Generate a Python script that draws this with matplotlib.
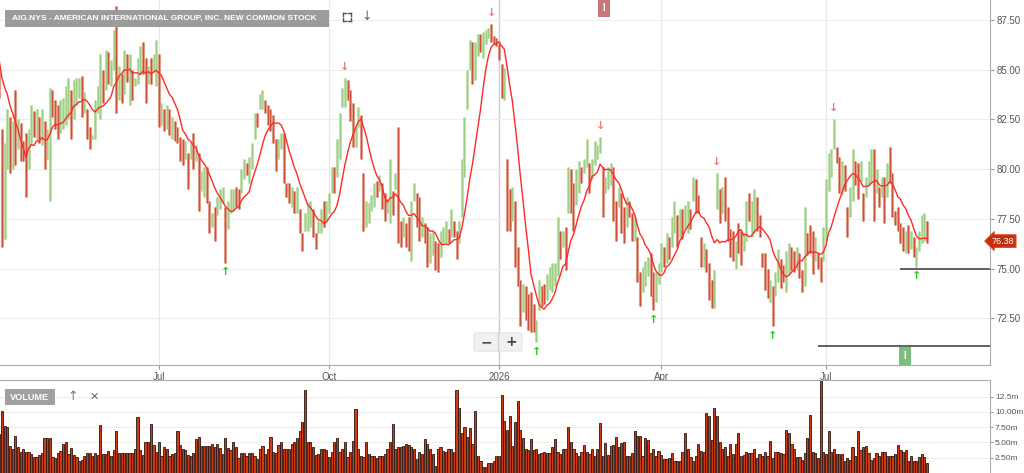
import numpy as np
import pandas as pd
import matplotlib
matplotlib.use("Agg")
import matplotlib.pyplot as plt
import matplotlib.transforms as mtransforms
from matplotlib.patches import FancyBboxPatch, Rectangle
from matplotlib.lines import Line2D

plt.rcParams["font.family"] = ["Liberation Sans", "DejaVu Sans"]


# ---------------- data ----------------
start_date = "2025-04-04"
holidays = ["2025-04-18", "2025-05-26", "2025-06-19", "2025-07-04", "2025-09-01",
            "2025-11-27", "2025-12-25", "2026-01-01", "2026-01-19", "2026-02-16",
            "2026-04-03", "2026-05-25", "2026-06-19", "2026-07-03"]

# (high, low, close) per trading day
bars_before = [(86.0, 84.6, 85.2), (86.6, 85.0, 85.9), (87.0, 85.6, 86.3), (86.5, 85.1, 85.6),
               (85.9, 84.5, 85.0), (86.4, 84.9, 85.8), (86.8, 85.3, 86.0), (86.2, 84.6, 84.9),
               (85.0, 83.6, 84.1)]

bars_apr_jun = [
    (82.0, 76.1, 77.0), (81.3, 76.5, 80.5), (83.0, 80.0, 82.5), (82.6, 79.8, 80.5), (82.4, 80.0, 81.8),
    (84.0, 80.2, 80.8), (82.5, 81.0, 81.8), (82.3, 80.4, 80.9), (81.4, 80.4, 80.7), (81.8, 78.6, 79.3),
    (82.0, 80.0, 81.5), (83.2, 81.2, 82.5), (82.9, 81.6, 82.1), (83.0, 81.5, 82.8), (82.6, 81.3, 81.7),
    (83.0, 81.2, 82.6), (82.4, 80.0, 80.6), (82.0, 80.5, 80.9), (84.1, 78.4, 83.5), (84.0, 82.6, 83.0),
    (83.5, 82.0, 82.9), (83.2, 81.5, 82.0), (83.5, 81.8, 83.0), (83.6, 82.0, 83.2), (84.2, 82.2, 83.8),
    (84.6, 82.5, 84.3), (84.0, 81.5, 82.0), (84.5, 82.5, 84.0), (84.6, 83.2, 84.3), (84.6, 83.6, 84.4),
    (84.7, 82.6, 83.0), (83.9, 82.8, 83.2), (83.0, 81.5, 82.0), (82.1, 81.0, 81.2), (81.7, 81.5, 81.6),
    (83.5, 81.5, 83.0), (84.2, 82.8, 83.6), (85.8, 82.5, 85.0), (85.0, 83.3, 84.7), (86.0, 84.0, 85.7),
    (85.9, 84.3, 84.5), (85.5, 84.2, 85.2), (87.0, 85.0, 86.8), (88.2, 82.8, 83.5), (85.2, 83.5, 84.8),
    (84.8, 83.3, 84.2), (86.0, 83.8, 85.5), (85.8, 84.4, 84.8), (85.8, 83.2, 85.3), (85.0, 83.5, 83.9),
    (84.6, 84.2, 84.4), (85.6, 84.3, 85.2), (86.2, 84.8, 86.0), (86.4, 84.8, 85.2), (85.6, 83.3, 83.8),
    (85.2, 84.3, 84.9), (85.6, 84.3, 84.5), (85.8, 84.9, 85.6), (86.5, 84.2, 86.2), (85.8, 82.1, 82.6),
    (83.3, 82.2, 83.0), (83.0, 81.9, 82.1), (83.2, 82.0, 82.9), (83.0, 81.7, 82.0), (82.6, 81.5, 82.3),
    (82.4, 81.4, 81.8), (82.1, 81.3, 81.5), (81.6, 80.4, 80.7), (81.5, 80.2, 80.5), (81.4, 80.5, 80.9),
    (80.8, 79.0, 80.3), (81.3, 80.5, 81.0), (81.8, 80.0, 80.8), (81.2, 80.4, 81.0), (80.8, 77.9, 78.3),
    (79.9, 78.9, 79.5), (80.1, 78.6, 79.8), (80.1, 78.3, 78.6), (78.4, 76.8, 77.2), (77.8, 77.1, 77.6),
    (78.1, 76.4, 76.8), (78.6, 77.7, 78.3), (79.0, 78.0, 78.7), (79.1, 78.3, 78.9), (78.1, 75.3, 75.9),
    (78.4, 77.0, 78.2), (79.0, 77.8, 78.5), (79.0, 77.9, 78.8), (79.1, 78.1, 78.6), (79.0, 78.0, 78.3),
    (80.0, 78.8, 79.8)]

bars_jun_dec = [
    (80.5, 79.5, 80.2), (80.3, 79.7, 79.9), (80.6, 79.3, 80.4), (81.3, 80.0, 81.1), (82.8, 81.5, 82.6),
    (82.8, 82.1, 82.5), (83.8, 83.0, 83.6), (84.0, 83.0, 83.8), (83.5, 82.8, 83.0), (83.2, 82.2, 82.5),
    (83.0, 81.9, 82.2), (82.7, 81.3, 81.6), (81.5, 79.9, 80.2), (81.5, 80.5, 81.2), (81.8, 81.0, 81.6),
    (81.8, 79.3, 79.6), (79.3, 78.6, 78.8), (79.3, 78.3, 78.6), (79.1, 78.1, 78.9), (78.9, 77.8, 78.1),
    (79.1, 77.8, 78.9), (78.0, 76.8, 77.0), (76.8, 75.9, 76.6), (77.8, 76.9, 77.6), (78.3, 76.9, 78.0),
    (78.4, 77.1, 78.2), (78.0, 76.6, 76.9), (76.8, 76.0, 76.2), (77.4, 76.8, 77.0), (78.0, 76.8, 77.8),
    (78.4, 77.1, 77.4), (78.4, 77.4, 77.6), (78.8, 77.8, 78.5), (80.1, 78.8, 79.8), (80.1, 78.8, 79.2),
    (81.5, 79.6, 81.2), (82.8, 80.5, 82.5), (84.1, 83.1, 83.9), (84.6, 83.1, 84.3), (84.5, 83.5, 83.7),
    (84.0, 82.4, 82.6), (83.3, 81.1, 81.5), (82.1, 81.1, 81.9), (83.1, 82.1, 82.9), (82.7, 80.5, 80.8),
    (79.8, 76.9, 77.2), (78.4, 77.1, 78.0), (78.3, 77.3, 78.1), (78.7, 77.9, 78.5), (79.3, 78.1, 79.0),
    (79.4, 78.6, 78.8), (79.7, 78.9, 79.5), (79.3, 78.0, 78.3), (78.8, 77.4, 77.7), (78.5, 77.8, 78.3),
    (80.5, 77.3, 79.2), (78.9, 77.7, 78.6), (79.8, 79.0, 79.6), (82.1, 76.3, 76.8), (77.4, 76.1, 76.5),
    (77.6, 76.6, 77.3), (77.3, 76.1, 76.4), (77.6, 75.9, 76.2), (78.4, 75.4, 78.0), (79.3, 78.4, 79.0),
    (78.8, 77.1, 77.4), (78.6, 76.4, 76.8), (77.6, 76.6, 77.2), (77.3, 76.3, 76.6), (77.1, 75.1, 75.5),
    (76.8, 75.3, 75.7), (76.9, 75.7, 76.5), (76.4, 74.9, 75.2), (76.3, 74.8, 75.1), (76.9, 75.6, 76.5),
    (77.1, 76.3, 76.9), (77.4, 76.3, 77.1), (77.0, 76.3, 76.8), (78.0, 76.6, 77.7), (77.4, 76.6, 76.9),
    (76.9, 75.5, 75.9), (77.4, 76.3, 77.2), (80.5, 77.6, 80.2)]

bars_dec_apr = [
    (82.6, 79.6, 82.3), (85.0, 83.0, 84.8), (86.5, 85.0, 86.2), (86.4, 84.3, 84.6), (86.4, 84.5, 86.0),
    (86.8, 85.7, 86.5), (86.8, 85.9, 86.1), (86.9, 85.6, 86.6), (87.0, 86.3, 86.8), (87.1, 86.6, 87.0),
    (87.3, 86.4, 86.6), (86.7, 86.3, 86.4), (86.6, 86.2, 86.3), (86.3, 85.5, 85.7), (85.3, 83.6, 83.9),
    (85.1, 83.5, 84.8), (80.5, 76.9, 77.5), (79.0, 76.9, 77.3), (79.1, 77.4, 78.8), (78.4, 75.1, 75.5),
    (76.1, 74.1, 74.4), (74.4, 72.1, 72.5), (74.2, 72.8, 74.0), (74.1, 72.4, 72.8), (73.7, 71.9, 72.3),
    (73.8, 71.8, 72.2), (73.2, 71.8, 72.0), (72.4, 71.3, 72.2), (74.4, 72.9, 74.1), (74.1, 73.1, 73.9),
    (74.2, 73.2, 73.5), (74.7, 73.4, 74.5), (75.1, 73.9, 74.9), (75.3, 73.8, 75.1), (75.3, 74.1, 75.2),
    (77.6, 74.6, 77.3), (76.9, 75.5, 75.8), (76.9, 76.1, 76.7), (77.1, 74.9, 75.3), (80.1, 77.8, 79.8),
    (80.0, 77.8, 79.6), (79.3, 76.9, 77.4), (80.0, 78.2, 79.7), (80.4, 78.8, 80.2), (80.1, 79.3, 79.6),
    (80.5, 79.8, 80.3), (81.5, 80.1, 80.4), (80.3, 78.8, 79.1), (80.5, 79.5, 80.3), (81.4, 80.2, 80.5),
    (81.2, 80.5, 81.0), (81.6, 80.8, 81.4), (80.1, 77.6, 78.0), (79.6, 78.8, 79.1), (80.1, 79.0, 79.8),
    (80.3, 79.2, 80.0), (80.1, 77.4, 77.8), (78.4, 76.4, 76.8), (79.1, 78.1, 78.8), (78.8, 76.8, 77.2),
    (78.1, 76.3, 76.6), (78.6, 77.1, 78.3), (78.4, 77.6, 78.2), (77.8, 76.4, 76.7), (77.6, 76.4, 76.8),
    (76.6, 74.3, 74.6), (74.8, 73.1, 73.4), (75.1, 73.8, 74.8), (75.4, 74.1, 75.2), (75.6, 74.6, 75.4),
    (75.8, 73.6, 74.0), (74.8, 72.9, 73.3), (74.8, 73.3, 74.6), (75.3, 74.2, 75.1), (76.3, 74.8, 76.0),
    (76.1, 75.1, 75.9), (76.8, 75.3, 76.6), (76.6, 75.5, 75.8), (77.6, 76.1, 77.4), (78.4, 76.8, 78.2),
    (77.7, 76.1, 76.5), (78.0, 76.6, 77.8), (78.0, 76.5, 76.9), (78.2, 77.0, 78.0), (78.4, 76.8, 78.1),
    (78.0, 77.0, 77.8), (79.6, 78.4, 79.3), (79.5, 77.8, 78.2), (78.7, 77.8, 78.0), (76.6, 75.1, 75.5),
    (76.3, 75.1, 75.9), (76.0, 74.8, 75.2), (75.3, 73.4, 75.0)]

bars_apr_aug = [
    (74.4, 73.0, 73.3), (74.9, 73.0, 74.7), (79.8, 78.0, 79.5), (79.0, 77.3, 77.6), (79.1, 77.8, 78.9),
    (79.6, 77.4, 77.7), (78.1, 76.4, 76.6), (77.0, 75.6, 75.9), (76.9, 75.4, 75.7), (76.4, 75.0, 76.2),
    (77.3, 75.8, 76.0), (76.9, 75.2, 75.5), (76.8, 75.9, 76.6), (78.4, 76.4, 78.1), (78.8, 77.4, 77.7),
    (78.4, 76.6, 78.1), (79.0, 76.8, 78.7), (78.6, 76.9, 77.2), (77.7, 76.6, 76.9), (75.8, 75.1, 75.3),
    (75.8, 73.9, 74.2), (75.0, 73.5, 73.8), (74.4, 73.3, 74.2), (74.1, 72.1, 72.6), (74.8, 73.6, 74.5),
    (76.0, 74.3, 75.8), (75.5, 74.0, 75.2), (75.2, 74.3, 74.6), (75.9, 73.8, 75.6), (76.3, 74.7, 76.0),
    (76.1, 74.9, 75.8), (75.9, 74.8, 75.2), (76.1, 74.9, 75.9), (75.8, 74.5, 75.5), (74.9, 73.8, 74.2),
    (78.1, 74.1, 77.8), (76.8, 75.7, 76.5), (77.2, 75.8, 76.1), (76.9, 74.7, 75.0), (76.6, 75.4, 76.3),
    (75.8, 75.0, 75.3), (75.6, 74.3, 74.6), (77.1, 75.4, 76.8), (79.5, 76.4, 79.2), (80.8, 78.9, 80.5),
    (81.0, 79.6, 80.7), (82.5, 81.0, 81.3), (81.1, 80.3, 80.5), (80.6, 78.8, 79.1), (80.4, 78.7, 80.1),
    (80.2, 78.9, 79.2), (78.1, 76.6, 76.9), (79.1, 77.6, 78.8), (81.0, 78.4, 80.6), (80.4, 79.2, 80.1),
    (80.3, 78.5, 78.9), (80.4, 79.4, 79.7), (78.8, 77.4, 77.7), (79.6, 78.6, 79.4), (80.4, 79.2, 80.2),
    (81.0, 79.3, 80.7), (81.0, 77.4, 77.8), (80.0, 78.8, 79.2), (79.1, 78.1, 78.4), (79.6, 78.6, 79.4),
    (79.6, 77.3, 79.1), (80.3, 78.6, 80.0), (81.1, 79.3, 79.6), (79.8, 77.6, 78.0), (77.9, 77.2, 77.4),
    (78.1, 76.9, 77.2), (77.3, 76.3, 76.6), (77.1, 75.9, 76.2), (76.9, 75.8, 76.6), (77.2, 75.8, 76.0),
    (76.9, 76.0, 76.7), (76.6, 75.6, 75.8), (76.1, 75.1, 75.9), (76.9, 75.9, 76.6), (77.7, 76.3, 77.4),
    (77.8, 76.4, 77.5), (77.4, 76.3, 76.38)]

# volume in millions
vol_before = [4.2, 3.8, 5.0, 3.5, 4.6, 3.9, 4.4, 5.2, 6.3]
vol_apr_aug25 = [
    10.1, 7.7, 7.5, 4.4, 4.0, 6.1, 4.3, 3.5, 4.0, 3.5, 3.5, 3.1, 2.6, 2.6, 2.9, 3.2, 5.8, 5.8, 5.7, 2.6,
    2.4, 3.2, 3.6, 4.8, 5.1, 3.1, 4.1, 2.9, 2.6, 2.0, 2.1, 2.8, 3.2, 3.2, 2.8, 3.2, 2.9, 7.8, 3.1, 3.1,
    3.6, 2.8, 3.8, 6.9, 3.2, 3.3, 3.3, 3.3, 3.3, 3.2, 4.0, 9.1, 3.8, 2.9, 5.0, 5.0, 8.0, 4.6, 3.5, 5.1,
    2.8, 4.2, 4.0, 2.8, 3.1, 3.2, 6.9, 4.6, 3.9, 3.8, 2.9, 2.8, 3.2, 5.5, 5.9, 4.4, 4.4, 4.4, 4.4, 4.8,
    4.3, 4.7, 4.1, 3.1, 5.8, 4.1, 3.8, 5.0, 4.2, 2.4, 3.3, 3.3, 2.7, 3.3]
vol_aug_jan = [
    3.3, 2.8, 2.3, 4.0, 4.4, 3.1, 4.0, 5.9, 3.5, 3.3, 4.5, 5.1, 3.9, 4.0, 3.9, 4.7, 5.1, 5.7, 6.8, 8.3,
    13.5, 5.1, 5.0, 4.2, 2.9, 3.1, 4.0, 3.9, 3.8, 2.6, 3.5, 5.0, 5.8, 3.4, 4.0, 5.0, 2.6, 3.4, 5.2, 10.5,
    3.9, 2.7, 2.6, 5.0, 3.1, 2.7, 2.8, 2.5, 2.8, 2.8, 3.1, 4.0, 5.1, 8.0, 3.9, 4.2, 4.3, 4.4, 4.7, 4.5,
    4.2, 3.9, 2.3, 3.4, 3.1, 5.5, 4.7, 3.9, 3.1, 1.2, 3.9, 4.2, 3.6, 3.4, 4.0, 4.0, 3.5, 13.5, 10.6, 6.6,
    7.6, 5.9, 7.4, 4.8, 10.2, 2.8, 1.9, 0.9, 1.0, 1.7, 1.6, 1.9, 2.8, 2.8, 12.7, 8.5, 7.0]
vol_jan_aug26 = [
    9.3, 4.4, 8.4, 11.8, 7.0, 5.7, 4.0, 3.8, 5.5, 3.8, 4.0, 3.1, 3.2, 3.4, 3.2, 3.2, 4.2, 5.5, 3.5, 3.1,
    3.9, 3.9, 7.5, 5.1, 4.0, 3.2, 2.7, 3.5, 4.5, 3.5, 3.1, 3.9, 2.7, 3.9, 8.2, 2.7, 4.9, 2.9, 4.4, 4.6,
    5.9, 4.2, 4.9, 5.0, 2.7, 2.7, 3.3, 6.9, 6.0, 6.0, 2.7, 5.8, 5.4, 3.2, 4.0, 2.7, 3.6, 2.9, 2.3, 2.3,
    2.4, 3.2, 1.9, 2.0, 1.9, 3.5, 6.6, 4.0, 2.6, 1.9, 2.7, 4.7, 3.6, 3.4, 9.8, 9.3, 5.4, 10.7, 9.3, 5.1,
    4.0, 4.3, 2.7, 4.7, 3.1, 4.7, 6.5, 2.8, 2.9, 3.5, 3.2, 3.2, 3.9, 2.4, 3.1, 2.7, 3.5, 2.7, 5.2, 2.5,
    3.4, 3.4, 3.2, 3.1, 7.1, 6.5, 4.7, 4.0, 2.6, 2.6, 2.1, 3.2, 5.7, 9.5, 3.5, 3.2, 2.5, 15.4, 3.5, 3.1,
    6.9, 3.5, 3.9, 3.1, 3.1, 3.1, 1.9, 2.4, 2.2, 4.2, 2.8, 6.9, 3.8, 4.2, 4.4, 3.3, 2.2, 2.4, 3.2, 2.7,
    3.4, 3.5, 2.7, 2.8, 2.8, 3.1, 4.5, 3.8, 3.4, 3.7, 2.0, 2.7, 2.0, 2.0, 2.6, 3.1, 2.6, 1.6]

month_ticks = [(2025, 7), (2025, 10), (2026, 1), (2026, 4), (2026, 7)]
month_labels = ["Jul", "Oct", "2026", "Apr", "Jul"]
price_ticks = [72.5, 75.0, 77.5, 80.0, 82.5, 85.0, 87.5]
vol_ticks = [2.5, 5.0, 7.5, 10.0, 12.5]
vol_labels = ["2.50m", "5.00m", "7.50m", "10.00m", "12.5m"]

# signal arrows (approximate bar positions), support lines, last price
sig_down_near = [128, 182, 226, 269, 313]
sig_up_near = [85, 201, 245, 291, 345]
support_start = [338, 307]
support_level = [75.0, 71.1]
last_price = 76.38
title = "AIG.NYS - AMERICAN INTERNATIONAL GROUP, INC. NEW COMMON STOCK"

# ---------------- build series ----------------
visible = bars_apr_jun + bars_jun_dec + bars_dec_apr + bars_apr_aug
allbars = np.array(bars_before + visible)
hi, lo, cl = allbars[:, 0], allbars[:, 1], allbars[:, 2]
op = np.r_[cl[0], cl[:-1]]
vol = np.array(vol_before + vol_apr_aug25 + vol_aug_jan + vol_jan_aug26)
npre = len(bars_before)
x = np.arange(len(cl)) - npre
ma = pd.Series(cl).rolling(10, min_periods=1).mean().values

dates = pd.bdate_range(start_date, periods=len(visible), freq="C", holidays=holidays)
tick_pos = [int(np.argmax((dates.year == y) & (dates.month == m))) for y, m in month_ticks]

W, H = 1024, 473
fig = plt.figure(figsize=(W / 100, H / 100), dpi=100)
fig.patch.set_facecolor("white")

def fx(px):
    return px / W

def fy(py):
    return 1 - py / H

xl = (-0.75, 371.7)
ax = fig.add_axes([0, fy(365), fx(990), 365 / H])
axv = fig.add_axes([0, 0, fx(990), 93 / H])

# ---- price panel ----
for t in tick_pos:
    ax.axvline(t, color="#e8e8e8", lw=0.8, zorder=0)
ax.axvline(tick_pos[2], color="#cfcfcf", lw=1.0, zorder=0)
for p in price_ticks:
    ax.axhline(p, color="#eeeeee", lw=0.8, zorder=0)

up = cl >= op
ax.vlines(x[up], lo[up], hi[up], color="#bfe0ad", lw=2.2, zorder=2)
ax.vlines(x[up], lo[up], hi[up], color="#98cc80", lw=0.6, zorder=3)
ax.vlines(x[~up], lo[~up], hi[~up], color="#e09a86", lw=2.2, zorder=2)
ax.vlines(x[~up], lo[~up], hi[~up], color="#c8452a", lw=0.6, zorder=3)
ax.plot(x, ma, color="#ff2a2a", lw=1.0, zorder=4)

for n in sig_down_near:
    i = n - 4 + int(np.argmax(hi[npre + n - 4:npre + n + 5]))
    ax.annotate("\u2193", (i, hi[npre + i]), xytext=(0, 8), textcoords="offset points",
                ha="center", va="center", color="#ef7a7a", fontsize=8, fontweight="bold",
                family="DejaVu Sans")
for n in sig_up_near:
    i = n - 4 + int(np.argmin(lo[npre + n - 4:npre + n + 5]))
    ax.annotate("\u2191", (i, lo[npre + i]), xytext=(0, -7), textcoords="offset points",
                ha="center", va="center", color="#22cc22", fontsize=8, fontweight="bold",
                family="DejaVu Sans")

for s, lvl in zip(support_start, support_level):
    ax.hlines(lvl, s, xl[1], color="#555555", lw=1.3, zorder=5)

ax.text(226.5, 88.1, "I", ha="center", va="center", color="white", fontsize=7, fontweight="bold",
        bbox=dict(boxstyle="square,pad=0.45", fc="#c47878", ec="none"))
ax.text(339.7, 70.6, "I", ha="center", va="center", color="white", fontsize=7, fontweight="bold",
        bbox=dict(boxstyle="square,pad=0.45", fc="#7dbd7d", ec="none"))

trans = mtransforms.blended_transform_factory(ax.transAxes, ax.transData)
ax.text(1.013, last_price, f"{last_price:.2f}", transform=trans, ha="center", va="center",
        fontsize=6.5, color="white", clip_on=False, zorder=10,
        bbox=dict(boxstyle="larrow,pad=0.2", fc="#c52d0c", ec="#e04a2a", lw=0.8))

ax.set_xlim(*xl)
ax.set_ylim(70.146, 88.506)
ax.yaxis.tick_right()
ax.set_yticks(price_ticks)
ax.set_yticklabels([f"{p:.2f}" for p in price_ticks])
ax.set_xticks(tick_pos)
ax.set_xticklabels(month_labels)
ax.tick_params(axis="both", labelsize=7, colors="#999999", labelcolor="#555555", length=3, pad=2)
for side in ["left", "top"]:
    ax.spines[side].set_visible(False)
for side in ["right", "bottom"]:
    ax.spines[side].set_color("#aaaaaa")

# ---- volume panel ----
for v in vol_ticks:
    axv.axhline(v, color="#eeeeee", lw=0.8, zorder=0)
axv.bar(x, vol, width=0.82, color="#cf3a12", edgecolor="#2b1610", linewidth=0.6, zorder=2)
axv.set_xlim(*xl)
axv.set_ylim(0, 15.2)
axv.yaxis.tick_right()
axv.set_yticks(vol_ticks)
axv.set_yticklabels(vol_labels)
axv.set_xticks([])
axv.tick_params(axis="y", labelsize=6, colors="#999999", labelcolor="#555555", length=2, pad=1.5)
for side in ["left", "bottom"]:
    axv.spines[side].set_visible(False)
for side in ["right", "top"]:
    axv.spines[side].set_color("#aaaaaa")

# ---- chart furniture ----
fig.add_artist(Rectangle((fx(5), fy(27)), fx(324), 17 / H, fc="#9c9c9c", ec="none"))
fig.text(fx(12), fy(18.5), title, ha="left", va="center", fontsize=6.0, fontweight="bold",
         color="white")
for (x0, y0, dx, dy) in [(343, 13, 1, 1), (351, 13, -1, 1), (343, 21, 1, -1), (351, 21, -1, -1)]:
    fig.add_artist(Line2D([fx(x0), fx(x0 + 3 * dx)], [fy(y0), fy(y0)], color="#555", lw=1))
    fig.add_artist(Line2D([fx(x0), fx(x0)], [fy(y0), fy(y0 + 3 * dy)], color="#555", lw=1))
fig.text(fx(367), fy(17), "\u2193", ha="center", va="center", fontsize=9, color="#666",
         family="DejaVu Sans")

fig.add_artist(Rectangle((fx(5), fy(405)), fx(50), 16 / H, fc="#a0a0a0", ec="none"))
fig.text(fx(30), fy(397), "VOLUME", ha="center", va="center", fontsize=6.6, fontweight="bold",
         color="white")
fig.text(fx(73), fy(397), "\u2191", ha="center", va="center", fontsize=9, color="#777",
         family="DejaVu Sans")
fig.text(fx(94), fy(397), "\u2715", ha="center", va="center", fontsize=8, color="#666",
         family="DejaVu Sans")

fig.add_artist(FancyBboxPatch((fx(474), fy(351)), fx(48), 18 / H, boxstyle="round,pad=0.0,rounding_size=0.003",
                              fc="#f1f1f1", ec="#e2e2e2", lw=0.8))
fig.add_artist(Line2D([fx(498), fx(498)], [fy(333), fy(351)], color="#cfcfcf", lw=1.0))
fig.text(fx(486), fy(342), "\u2212", ha="center", va="center", fontsize=10, fontweight="bold",
         color="#444", family="DejaVu Sans")
fig.text(fx(511), fy(342), "+", ha="center", va="center", fontsize=10, fontweight="bold",
         color="#444", family="DejaVu Sans")

fig.savefig("out.png", dpi=100)
